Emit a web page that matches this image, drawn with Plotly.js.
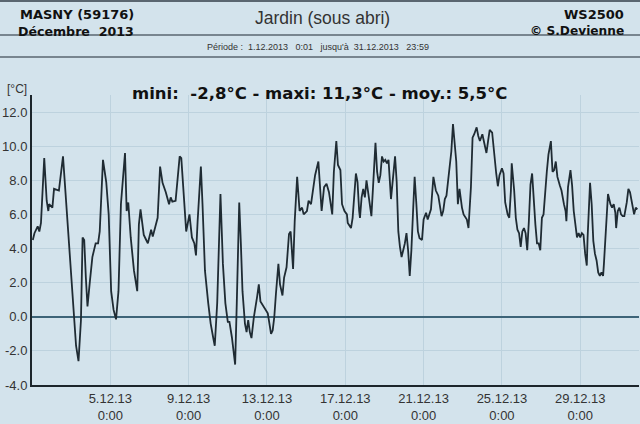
<!DOCTYPE html>
<html>
<head>
<meta charset="utf-8">
<script src="https://cdn.plot.ly/plotly-3.0.1.min.js"></script>
<style>
html,body{margin:0;padding:0;background:#d3e3ec;}
#chart{width:640px;height:424px;}
</style>
</head>
<body>
<div id="chart"></div>
<script>
// Hours since 1.12.2013 0:00 and temperature (°C)
const hours = [1,3,7,9,11,15,18,20,21,25,27,33,38,42,46,50,54,57,60,62,64,66,68,71,74,78,81,83,87,91,94,97,100,103,106,109,114,116,118,121,125,129,131,133,137,140,142,146,148,151,154,157,160,164,168,170,172,176,178,181,183,186,189,193,196,199,201,203,207,209,212,216,219,222,224,227,229,231,234,237,240,242,245,248,249,251,254,256,258,261,263,265,267,269,272,276,278,280,284,289,291,293,295,297,299,302,304,307,309,312,315,317,320,322,325,328,331,333,337,339,342,344,347,351,353,355,358,361,364,368,370,373,375,378,380,383,386,387,391,393,397,399,401,402,404,406,408,410,412,414,416,418,421,423,425,427,429,431,433,435,437,440,442,445,447,449,451,453,455,457,459,461,463,465,467,469,471,473,475,478,480,483,485,489,492,495,498,500,502,504,506,508,510,512,514,516,518,520,522,524,527,529,533,535,538,540,542,545,547,549,552,554,557,559,561,564,567,569,571,573,576,578,580,583,585,587,588,591,593,595,597,599,601,603,605,607,609,611,613,615,617,619,621,623,625,627,629,631,633,636,638,640,642,644,647,649,652,654,655,657,660,662,664,666,668,670,672,674,676,678,680,681,684,686,688,690,692,694,696,698,700,701,703,705,706,709,711,713,715,716,718,720,722,724,726,729,731,733,735,738,740,742];
const temps = [4.5,4.9,5.3,5.0,5.5,9.3,6.8,6.2,6.6,6.4,7.5,7.4,9.4,6.6,3.7,0.8,-1.7,-2.6,-0.2,4.65,4.5,2.3,0.6,2.1,3.5,4.3,4.3,5.0,9.2,7.9,6.0,1.5,0.4,-0.15,1.5,6.6,9.6,6.2,6.7,4.65,2.7,1.5,5.4,6.3,4.8,4.5,4.3,5.1,4.7,5.25,5.8,8.8,7.85,7.3,6.6,7.0,6.75,6.8,7.9,9.4,9.3,7.0,5.0,6.0,4.65,4.3,3.6,5.6,8.8,6.6,2.7,0.8,-0.4,-1.2,-1.7,0.8,4.65,7.2,3.1,0.8,-0.3,-0.3,-1.2,-2.3,-2.8,0.8,6.7,4.3,1.5,-0.4,-0.9,-0.2,-0.9,-1.25,0.0,1.2,1.9,0.9,0.6,0.2,-0.4,-1.0,-0.8,0.0,1.35,3.1,1.9,1.25,2.3,2.9,4.85,5.0,2.8,5.6,8.2,6.2,6.4,6.0,6.2,6.8,6.6,7.3,8.3,9.1,7.9,6.2,7.6,7.8,7.3,6.0,8.5,10.3,8.9,8.6,6.6,6.2,6.0,5.5,5.2,5.8,8.4,7.9,6.2,5.8,7.0,7.5,7.0,8.0,7.3,6.6,5.9,7.6,10.2,8.5,7.85,8.3,9.4,9.1,9.2,9.0,9.2,6.9,8.1,9.4,7.9,5.0,4.1,3.5,3.9,4.3,4.9,3.9,2.4,3.9,6.1,8.2,6.7,5.0,4.6,4.5,5.7,6.1,5.7,6.3,8.2,7.4,7.1,6.6,5.9,6.2,6.9,7.1,8.1,8.8,9.7,11.3,10.3,9.1,6.6,7.5,6.4,6.0,5.7,5.2,7.6,10.5,10.7,11.1,10.6,10.3,10.7,10.2,9.6,10.3,10.95,10.8,9.1,8.4,7.65,8.3,8.7,8.4,6.7,6.0,5.8,7.4,9.0,7.4,5.8,5.1,4.9,4.1,5.0,5.2,4.9,3.9,5.6,7.75,8.4,6.6,5.4,4.3,4.3,3.9,5.8,6.0,7.4,8.5,9.5,10.3,8.5,8.6,9.1,8.2,7.7,7.4,6.6,6.2,5.6,7.6,8.6,7.7,6.2,5.2,4.65,4.9,4.65,4.9,4.8,3.7,3.0,4.65,7.85,6.6,4.45,3.7,3.3,2.6,2.4,2.6,2.4,3.1,4.65,6.0,7.2,6.6,6.4,6.6,6.1,5.2,6.2,6.4,6.0,5.9,5.9,6.7,7.5,7.3,6.8,6.0,6.4,6.3];
const tickDates = ['2013-12-05','2013-12-09','2013-12-13','2013-12-17','2013-12-21','2013-12-25','2013-12-29'];
const tickLabels = ['5.12.13<br>0:00','9.12.13<br>0:00','13.12.13<br>0:00','17.12.13<br>0:00','21.12.13<br>0:00','25.12.13<br>0:00','29.12.13<br>0:00'];
const yTicks = [-4,-2,0,2,4,6,8,10,12];
const yLabels = ['-4.0','-2.0','0.0','2.0','4.0','6.0','8.0','10.0','12.0'];

function pad(n){return (n<10?'0':'')+n;}
const xs = hours.map(h => {
  const d = new Date(Date.UTC(2013,11,1) + h*3600000);
  return d.getUTCFullYear()+'-'+pad(d.getUTCMonth()+1)+'-'+pad(d.getUTCDate())+' '+pad(d.getUTCHours())+':00';
});

const bg = '#d3e3ec';
const font = "'Liberation Sans', Arial, sans-serif";
const bold = "'DejaVu Sans', Verdana, sans-serif";
const py = px => 1 + (95 - px) / 290;   // header rows placed above the plot area

const trace = {
  x: xs, y: temps, type: 'scatter', mode: 'lines',
  line: {color: '#1f2b33', width: 1.8},
  hoverinfo: 'skip'
};

const layout = {
  width: 640, height: 424,
  paper_bgcolor: bg, plot_bgcolor: bg,
  margin: {l: 32, r: 1, t: 95, b: 39},
  showlegend: false,
  font: {family: font, color: '#333', size: 13},
  xaxis: {
    type: 'date',
    range: ['2013-12-01 00:00', '2014-01-01 00:00'],
    tickmode: 'array', tickvals: tickDates, ticktext: tickLabels,
    showgrid: true, gridcolor: '#bdd2de', gridwidth: 1,
    showline: true, linecolor: '#1c252b', linewidth: 2,
    ticks: '', zeroline: false,
    tickfont: {family: font, size: 13, color: '#333'}
  },
  yaxis: {
    range: [-4, 13],
    tickmode: 'array', tickvals: yTicks, ticktext: yLabels,
    showgrid: true, gridcolor: '#bdd2de', gridwidth: 1,
    showline: true, linecolor: '#1c252b', linewidth: 2,
    zeroline: true, zerolinecolor: '#3d6478', zerolinewidth: 1.5,
    ticks: '', ticklen: 0,
    tickfont: {family: font, size: 13, color: '#333'}
  },
  shapes: [
    {type: 'line', xref: 'paper', yref: 'paper', x0: -0.06, x1: 1.01, y0: py(1), y1: py(1), line: {color: '#5a6670', width: 2}},
    {type: 'line', xref: 'paper', yref: 'paper', x0: -0.06, x1: 1.01, y0: py(35), y1: py(35), line: {color: '#5a6670', width: 1.5}},
    {type: 'line', xref: 'paper', yref: 'paper', x0: -0.06, x1: 1.01, y0: py(57), y1: py(57), line: {color: '#5a6670', width: 1.5}}
  ],
  annotations: [
    {xref: 'paper', yref: 'paper', x: -0.023, y: py(14), xanchor: 'left', yanchor: 'middle', showarrow: false,
     text: '<b>MASNY (59176)</b>', font: {family: bold, size: 13, color: '#111'}},
    {xref: 'paper', yref: 'paper', x: -0.027, y: py(31), xanchor: 'left', yanchor: 'middle', showarrow: false,
     text: '<b>Décembre  2013</b>', font: {family: bold, size: 12.6, color: '#111'}},
    {xref: 'paper', yref: 'paper', x: 0.478, y: py(18), xanchor: 'center', yanchor: 'middle', showarrow: false,
     text: 'Jardin (sous abri)', font: {family: font, size: 17.5, color: '#333'}},
    {xref: 'paper', yref: 'paper', x: 0.978, y: py(14), xanchor: 'right', yanchor: 'middle', showarrow: false,
     text: '<b>WS2500</b>', font: {family: bold, size: 13, color: '#111'}},
    {xref: 'paper', yref: 'paper', x: 0.978, y: py(31), xanchor: 'right', yanchor: 'middle', showarrow: false,
     text: '<b>© S.Devienne</b>', font: {family: bold, size: 12.2, color: '#111'}},
    {xref: 'paper', yref: 'paper', x: 0.471, y: py(47), xanchor: 'center', yanchor: 'middle', showarrow: false,
     text: 'Période :  1.12.2013   0:01   jusqu\'à  31.12.2013   23:59', font: {family: font, size: 9, color: '#333'}},
    {xref: 'paper', yref: 'paper', x: 0.474, y: py(93), xanchor: 'center', yanchor: 'middle', showarrow: false,
     text: '<b>mini:  -2,8°C - maxi: 11,3°C - moy.: 5,5°C</b>', font: {family: bold, size: 16.5, color: '#111'}},
    {xref: 'paper', yref: 'paper', x: -0.045, y: py(89), xanchor: 'left', yanchor: 'middle', showarrow: false,
     text: '[°C]', font: {family: font, size: 12, color: '#333'}}
  ]
};

Plotly.newPlot('chart', [trace], layout, {staticPlot: true, displayModeBar: false});
</script>
</body>
</html>
